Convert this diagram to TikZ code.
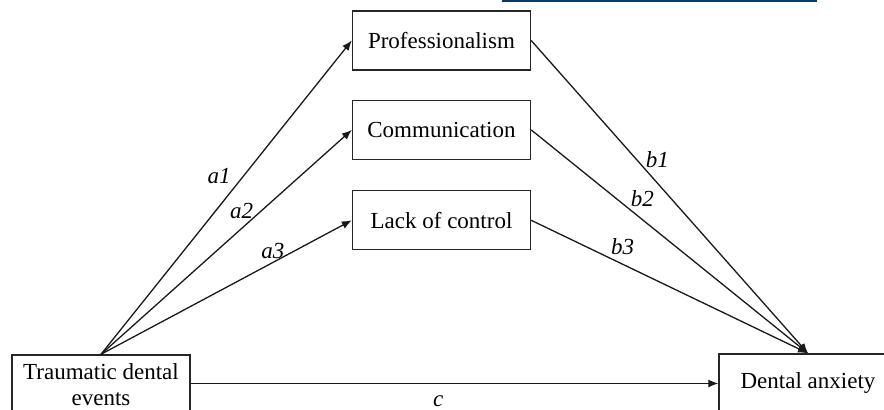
\documentclass[tikz,border=0pt]{standalone}
\usepackage{fontspec}
\setmainfont{Liberation Serif}
\usetikzlibrary{arrows.meta, positioning}
\definecolor{linkblue}{HTML}{003B6F}

\begin{document}
\begin{tikzpicture}[x=0.5pt, y=-0.5pt, font=\fontsize{11.5}{13}\selectfont,
    box/.style={draw=black!85, line width=0.7pt, align=center, minimum width=89pt, minimum height=29.5pt, inner sep=2pt},
    link/.style={draw=black!90, line width=0.65pt, -{Latex[length=5pt, width=4pt]}},
    coef/.style={font=\fontsize{11.5}{13}\selectfont\itshape}
]
  \useasboundingbox (0,0) rectangle (884,410);
  \clip (0,0) rectangle (884,410);
  \draw[linkblue, line width=1pt] (502,0.8) -- (817,0.8);

  \node[box] (prof) at (441.5,40.5) {Professionalism};
  \node[box, below=14.5pt of prof] (comm) {Communication};
  \node[box, below=15pt of comm] (lack) {Lack of control};

  \node[box] (trauma) at (101,384.5) {Traumatic dental\\events};
  \node[box] (anx) at (808,383.5) {Dental anxiety};

  % a paths
  \draw[link] (trauma.north) -- node[coef, pos=0.567, xshift=-12pt] {a1} (prof.west);
  \draw[link] (trauma.north) -- node[coef, pos=0.64, xshift=-10pt] {a2} (comm.west);
  \draw[link] (trauma.north) -- node[coef, pos=0.768, xshift=-10.4pt] {a3} (lack.west);

  % b paths
  \draw[link] (prof.east) -- node[coef, pos=0.381, xshift=10.3pt] {b1} (anx.north);
  \draw[link] (comm.east) -- node[coef, pos=0.402, yshift=10.5pt] {b2} (anx.north);
  \draw[link] (lack.east) -- node[coef, pos=0.33, yshift=8.75pt] {b3} (anx.north);

  % direct path
  \draw[link] (trauma.east |- anx.west) -- node[coef, pos=0.469, yshift=-9pt] {c} (anx.west);
\end{tikzpicture}
\end{document}
